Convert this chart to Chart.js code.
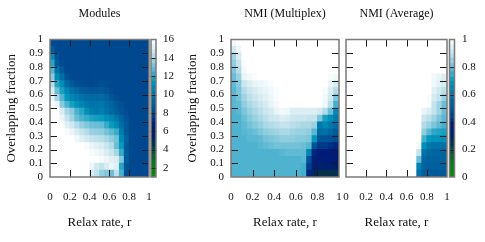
<!DOCTYPE html>
<html>
<head>
<meta charset="utf-8">
<title>Modules and NMI</title>
<script src="https://cdn.jsdelivr.net/npm/chart.js@4"></script>
<style>
  html, body { margin: 0; padding: 0; background: #fff; }
  #wrap { position: relative; width: 485px; height: 242px; overflow: hidden; filter: blur(0.45px); }
  canvas { position: absolute; left: 0; top: 0; }
</style>
</head>
<body>
<div id="wrap"></div>
<script>
const rateCenters = [0.025, 0.075, 0.125, 0.175, 0.225, 0.275, 0.325, 0.375, 0.425, 0.475, 0.525, 0.575, 0.625, 0.675, 0.725, 0.775, 0.825, 0.875, 0.925, 0.975];
// filas de arriba hacia abajo
const fractionTops = [1, 0.95, 0.9, 0.85, 0.8, 0.75, 0.7, 0.65, 0.6, 0.55, 0.5, 0.45, 0.4, 0.35, 0.3, 0.25, 0.2, 0.15, 0.1, 0.05];
const rowHeight = 0.05;

const rateTicks = [0, 0.2, 0.4, 0.6, 0.8, 1];
const fractionTicks = [0, 0.1, 0.2, 0.3, 0.4, 0.5, 0.6, 0.7, 0.8, 0.9, 1];
const modulesBarTicks = [2, 4, 6, 8, 10, 12, 14, 16];
const nmiBarTicks = [0, 0.2, 0.4, 0.6, 0.8, 1];

const modulesGrid = [
  [8.2, 8, 8, 8, 8, 8, 8, 8, 8, 8, 8, 8, 8, 8, 8, 8, 8, 8, 8, 8],
  [9, 8, 8, 8, 8, 8, 8, 8, 8, 8, 8, 8, 8, 8, 8, 8, 8, 8, 8, 8],
  [11, 8.4, 8, 8, 8, 8, 8, 8, 8, 8, 8, 8, 8, 8, 8, 8, 8, 8, 8, 8],
  [12, 9, 8.1, 8, 8, 8, 8, 8, 8, 8, 8, 8, 8, 8, 8, 8, 8, 8, 8, 8],
  [12.6, 10, 8.8, 8, 8, 8, 8, 8, 8, 8, 8, 8, 8, 8, 8, 8, 8, 8, 8, 8],
  [13.5, 11, 9.8, 8.4, 8, 8, 8, 8, 8, 8, 8, 8, 8, 8, 8, 8, 8, 8, 8, 8],
  [14.2, 12, 11, 9.5, 8.8, 8.3, 8.1, 8, 8, 8.1, 8.3, 8.1, 8, 8, 8, 8, 8, 8, 8, 8],
  [15, 13, 11.8, 10.8, 10, 9.5, 9, 8.8, 8.6, 8.7, 8.8, 8.5, 8.1, 8, 8, 8, 8, 8, 8, 8],
  [15.5, 14, 12.6, 11.5, 10.8, 10.4, 10, 9.7, 9.6, 9.6, 9.7, 9.2, 8.6, 8.2, 8, 8, 8, 8, 8, 8],
  [16, 15.5, 13.5, 12.5, 11.8, 11.2, 10.7, 10.3, 10.1, 10.1, 10.2, 9.8, 9.4, 8.8, 8.4, 8, 8, 8, 8, 8],
  [16, 16, 15, 14, 13.5, 12.5, 12, 11.2, 10.5, 10.2, 10.5, 10, 9.5, 9, 8.5, 8.1, 8, 8, 8, 8],
  [16, 16, 15.5, 14.5, 13.9, 13, 12.5, 12.2, 11.9, 11.7, 11.6, 11.2, 10.8, 10.2, 9.2, 8.5, 8, 8, 8, 8],
  [16, 16, 16, 15.2, 14.8, 14.2, 13.7, 13.4, 13.1, 13, 12.9, 12.2, 11.6, 11, 9.8, 8.8, 8, 8, 8, 8],
  [16, 16, 16, 15.8, 15.5, 15, 14.5, 14.2, 13.8, 13.7, 13.6, 13.2, 12.8, 12.3, 10.5, 8.8, 8, 8, 8, 8],
  [16, 16, 16, 16, 16, 15.6, 15.2, 14.9, 14.5, 14.4, 14.3, 14, 13.6, 13.2, 11, 9.2, 8, 8, 8, 8],
  [16, 16, 16, 16, 16, 16, 16, 15.8, 15.5, 15.2, 15, 14.6, 14.2, 13, 11.6, 8.8, 8, 8, 8, 8],
  [16, 16, 16, 16, 16, 16, 16, 16, 15.8, 15.6, 15.4, 15, 14.6, 14, 12.2, 9, 8, 8, 8, 8],
  [16, 16, 16, 16, 16, 16, 16, 16, 16, 16, 15.8, 15.5, 15.2, 15, 13.4, 9, 8, 8, 8, 8],
  [16, 16, 16, 16, 16, 16, 16, 16, 15.5, 14.8, 14.5, 15, 15.5, 15.2, 12, 8.5, 8, 8, 8, 8],
  [16, 16, 16, 16, 16, 16, 16, 16, 15, 14.4, 13.7, 13.4, 13, 14.4, 12.5, 8.3, 8, 8, 8, 8]
];

const multiplexGrid = [
  [0.98, 1, 1, 1, 1, 1, 1, 1, 1, 1, 1, 1, 1, 1, 1, 1, 1, 1, 1, 1],
  [0.92, 0.97, 1, 1, 1, 1, 1, 1, 1, 1, 1, 1, 1, 1, 1, 1, 1, 1, 1, 1],
  [0.86, 0.93, 1, 1, 1, 1, 1, 1, 1, 1, 1, 1, 1, 1, 1, 1, 1, 1, 1, 1],
  [0.84, 0.9, 0.99, 1, 1, 1, 1, 1, 1, 1, 1, 1, 1, 1, 1, 1, 1, 1, 1, 1],
  [0.82, 0.88, 0.98, 1, 1, 1, 1, 1, 1, 1, 1, 1, 1, 1, 1, 1, 1, 1, 1, 1],
  [0.8, 0.85, 0.96, 0.98, 0.99, 1, 1, 1, 1, 1, 1, 1, 1, 1, 1, 1, 1, 1, 0.99, 0.98],
  [0.79, 0.83, 0.91, 0.94, 0.96, 0.97, 0.98, 0.99, 1, 1, 1, 1, 1, 1, 1, 1, 1, 1, 0.96, 0.93],
  [0.78, 0.82, 0.88, 0.91, 0.93, 0.95, 0.96, 0.98, 0.99, 1, 1, 1, 1, 1, 1, 1, 1, 0.99, 0.94, 0.88],
  [0.78, 0.81, 0.86, 0.89, 0.91, 0.93, 0.95, 0.97, 0.99, 1, 1, 1, 1, 1, 1, 1, 1, 0.98, 0.92, 0.82],
  [0.78, 0.79, 0.84, 0.87, 0.89, 0.91, 0.93, 0.96, 0.98, 1, 1, 1, 1, 1, 1, 1, 1, 0.97, 0.89, 0.76],
  [0.77, 0.78, 0.82, 0.85, 0.87, 0.89, 0.91, 0.93, 0.96, 0.98, 0.97, 0.94, 0.94, 0.94, 0.94, 0.94, 0.92, 0.88, 0.8, 0.66],
  [0.77, 0.77, 0.8, 0.83, 0.85, 0.87, 0.89, 0.91, 0.92, 0.94, 0.93, 0.91, 0.91, 0.91, 0.9, 0.9, 0.82, 0.72, 0.68, 0.62],
  [0.77, 0.77, 0.79, 0.81, 0.83, 0.85, 0.87, 0.88, 0.89, 0.9, 0.9, 0.89, 0.88, 0.87, 0.87, 0.85, 0.62, 0.66, 0.62, 0.58],
  [0.77, 0.77, 0.78, 0.79, 0.8, 0.82, 0.84, 0.85, 0.86, 0.87, 0.87, 0.86, 0.85, 0.85, 0.84, 0.78, 0.58, 0.6, 0.56, 0.52],
  [0.77, 0.77, 0.77, 0.78, 0.78, 0.79, 0.81, 0.82, 0.83, 0.84, 0.84, 0.84, 0.83, 0.83, 0.82, 0.7, 0.5, 0.5, 0.5, 0.48],
  [0.77, 0.77, 0.77, 0.77, 0.77, 0.78, 0.79, 0.8, 0.81, 0.81, 0.81, 0.81, 0.81, 0.8, 0.78, 0.5, 0.44, 0.44, 0.42, 0.4],
  [0.77, 0.77, 0.77, 0.77, 0.77, 0.77, 0.77, 0.77, 0.77, 0.78, 0.79, 0.79, 0.79, 0.79, 0.65, 0.4, 0.38, 0.38, 0.38, 0.38],
  [0.77, 0.77, 0.77, 0.77, 0.77, 0.77, 0.77, 0.77, 0.77, 0.77, 0.77, 0.77, 0.77, 0.78, 0.5, 0.36, 0.36, 0.36, 0.36, 0.36],
  [0.77, 0.77, 0.77, 0.77, 0.77, 0.77, 0.77, 0.77, 0.77, 0.77, 0.77, 0.77, 0.77, 0.76, 0.45, 0.33, 0.33, 0.32, 0.32, 0.32],
  [0.77, 0.77, 0.77, 0.77, 0.77, 0.77, 0.77, 0.77, 0.77, 0.77, 0.77, 0.77, 0.77, 0.76, 0.4, 0.27, 0.25, 0.25, 0.25, 0.25]
];

const averageGrid = [
  [1, 1, 1, 1, 1, 1, 1, 1, 1, 1, 1, 1, 1, 1, 1, 1, 1, 1, 1, 1],
  [1, 1, 1, 1, 1, 1, 1, 1, 1, 1, 1, 1, 1, 1, 1, 1, 1, 1, 1, 1],
  [1, 1, 1, 1, 1, 1, 1, 1, 1, 1, 1, 1, 1, 1, 1, 1, 1, 1, 1, 1],
  [1, 1, 1, 1, 1, 1, 1, 1, 1, 1, 1, 1, 1, 1, 1, 1, 1, 1, 1, 1],
  [1, 1, 1, 1, 1, 1, 1, 1, 1, 1, 1, 1, 1, 1, 1, 1, 1, 1, 1, 1],
  [1, 1, 1, 1, 1, 1, 1, 1, 1, 1, 1, 1, 1, 1, 1, 1, 1, 0.98, 0.96, 0.94],
  [1, 1, 1, 1, 1, 1, 1, 1, 1, 1, 1, 1, 1, 1, 1, 1, 1, 0.97, 0.95, 0.93],
  [1, 1, 1, 1, 1, 1, 1, 1, 1, 1, 1, 1, 1, 1, 1, 1, 1, 0.95, 0.92, 0.89],
  [1, 1, 1, 1, 1, 1, 1, 1, 1, 1, 1, 1, 1, 1, 1, 1, 0.99, 0.93, 0.9, 0.85],
  [1, 1, 1, 1, 1, 1, 1, 1, 1, 1, 1, 1, 1, 1, 1, 1, 0.99, 0.9, 0.86, 0.8],
  [1, 1, 1, 1, 1, 1, 1, 1, 1, 1, 1, 1, 1, 1, 1, 0.96, 0.94, 0.9, 0.86, 0.8],
  [1, 1, 1, 1, 1, 1, 1, 1, 1, 1, 1, 1, 1, 1, 1, 0.91, 0.89, 0.86, 0.82, 0.78],
  [1, 1, 1, 1, 1, 1, 1, 1, 1, 1, 1, 1, 1, 1, 1, 0.88, 0.85, 0.82, 0.79, 0.76],
  [1, 1, 1, 1, 1, 1, 1, 1, 1, 1, 1, 1, 1, 1, 1, 0.84, 0.78, 0.74, 0.73, 0.72],
  [1, 1, 1, 1, 1, 1, 1, 1, 1, 1, 1, 1, 1, 1, 1, 0.76, 0.7, 0.68, 0.68, 0.68],
  [1, 1, 1, 1, 1, 1, 1, 1, 1, 1, 1, 1, 1, 1, 0.98, 0.68, 0.62, 0.6, 0.6, 0.6],
  [1, 1, 1, 1, 1, 1, 1, 1, 1, 1, 1, 1, 1, 1, 0.9, 0.6, 0.57, 0.56, 0.56, 0.55],
  [1, 1, 1, 1, 1, 1, 1, 1, 1, 1, 1, 1, 1, 1, 0.8, 0.56, 0.55, 0.55, 0.55, 0.55],
  [1, 1, 1, 1, 1, 1, 1, 1, 1, 1, 1, 1, 1, 1, 0.65, 0.55, 0.54, 0.54, 0.54, 0.54],
  [1, 1, 1, 1, 1, 1, 1, 1, 1, 1, 1, 1, 1, 1, 0.6, 0.54, 0.52, 0.52, 0.52, 0.52]
];

// escala de color: posición 0..1 y color
const paletteStops = [
  [0, "#009000"], [0.1, "#0a7a20"], [0.2, "#0b4a38"], [0.25, "#03304f"], [0.3, "#00206a"],
  [0.38, "#001c78"], [0.47, "#004a90"], [0.6, "#0072a8"], [0.7, "#0098bc"],
  [0.77, "#4fb3cf"], [0.9, "#c5e3ec"], [1, "#ffffff"]
];

// niveles del colorbar, de abajo hacia arriba
const barLevels = [0, 0.03, 0.07, 0.1, 0.13, 0.17, 0.2, 0.23, 0.27, 0.3, 0.33, 0.37, 0.4, 0.43, 0.47, 0.5, 0.53, 0.57, 0.6, 0.63, 0.67, 0.7, 0.73, 0.77, 0.8, 0.83, 0.87, 0.9, 0.93, 0.97];

const SERIF = "'Liberation Serif', 'Times New Roman', serif";
const WIDTH = 485, HEIGHT = 242;
const PLOT_TOP = 39.5, PLOT_BOTTOM = 177;

function paletteColor(t) {
  const v = Math.min(1, Math.max(0, t));
  for (let i = 1; i < paletteStops.length; i++) {
    const [p0, c0] = paletteStops[i - 1];
    const [p1, c1] = paletteStops[i];
    if (v <= p1) {
      const k = (v - p0) / (p1 - p0);
      const ch = (c, s) => parseInt(c.substr(s, 2), 16);
      const mix = s => Math.round(ch(c0, s) + (ch(c1, s) - ch(c0, s)) * k);
      return `rgb(${mix(1)},${mix(3)},${mix(5)})`;
    }
  }
  return "#ffffff";
}

// marcas hacia adentro y marco, estilo gnuplot
const frameTicks = {
  id: "frameTicks",
  afterDatasetsDraw(chart, args, opts) {
    const { ctx, chartArea: a, scales } = chart;
    ctx.save();
    ctx.strokeStyle = "#1a1a1a";
    ctx.lineWidth = 1;
    ctx.beginPath();
    scales.y.ticks.forEach(t => {
      const y = Math.round(scales.y.getPixelForValue(t.value)) + 0.5;
      if (y < a.top + 2 || y > a.bottom - 2) return;
      ctx.moveTo(a.left, y); ctx.lineTo(a.left + opts.len, y);
      ctx.moveTo(a.right - opts.len, y); ctx.lineTo(a.right, y);
    });
    if (scales.x.type === "linear") {
      scales.x.ticks.forEach(t => {
        const x = Math.round(scales.x.getPixelForValue(t.value)) + 0.5;
        if (x < a.left + 2 || x > a.right - 2) return;
        ctx.moveTo(x, a.top); ctx.lineTo(x, a.top + opts.len);
        ctx.moveTo(x, a.bottom - opts.len); ctx.lineTo(x, a.bottom);
      });
    }
    ctx.stroke();
    ctx.strokeStyle = "#7a7a7a";
    ctx.lineWidth = 1.5;
    ctx.strokeRect(a.left, a.top, a.right - a.left, a.bottom - a.top);
    ctx.restore();
  }
};

function newCanvas() {
  const c = document.createElement("canvas");
  c.width = WIDTH;
  c.height = HEIGHT;
  document.getElementById("wrap").appendChild(c);
  return c;
}

function setTicks(values) {
  return scale => { scale.ticks = values.map(value => ({ value })); };
}

const plainTick = value => String(value);

function drawHeatmap(p) {
  const cells = [];
  const colors = [];
  p.grid.forEach((row, r) => {
    row.forEach((v, c) => {
      const top = fractionTops[r];
      cells.push({ x: rateCenters[c], y: [top - rowHeight, top] });
      colors.push(paletteColor((v - p.min) / (p.max - p.min)));
    });
  });

  new Chart(newCanvas(), {
    type: "bar",
    data: {
      datasets: [{
        data: cells,
        backgroundColor: colors,
        borderWidth: 0,
        barPercentage: 1,
        categoryPercentage: 1,
        inflateAmount: 0.4
      }]
    },
    options: {
      responsive: false,
      animation: false,
      events: [],
      layout: { padding: { left: p.paddingLeft, right: WIDTH - p.right, top: 0, bottom: 0 } },
      plugins: {
        legend: { display: false },
        tooltip: { enabled: false },
        title: {
          display: true,
          text: p.title,
          fullSize: false,
          color: "#111",
          font: { family: SERIF, size: 12, weight: "normal" },
          padding: { top: 7, bottom: 18.1 }
        },
        frameTicks: { len: 7 }
      },
      scales: {
        x: {
          type: "linear",
          offset: false,
          min: 0,
          max: 1,
          afterBuildTicks: setTicks(rateTicks),
          afterFit: s => { s.height = HEIGHT - PLOT_BOTTOM; },
          grid: { display: false, drawTicks: false },
          border: { display: false },
          ticks: { color: "#111", padding: 14, maxRotation: 0, autoSkip: false, font: { family: SERIF, size: 11 }, callback: plainTick },
          title: {
            display: true,
            text: "Relax rate, r",
            color: "#111",
            font: { family: SERIF, size: 13 },
            padding: { top: 0, bottom: 12 }
          }
        },
        y: {
          type: "linear",
          min: 0,
          max: 1,
          afterBuildTicks: setTicks(fractionTicks),
          afterFit: s => { s.width = p.left - p.paddingLeft; },
          grid: { display: false, drawTicks: false },
          border: { display: false },
          ticks: { display: p.yLabels, color: "#111", padding: 7, autoSkip: false, font: { family: SERIF, size: 11 }, callback: plainTick },
          title: {
            display: p.yLabels,
            text: "Overlapping fraction",
            color: "#111",
            font: { family: SERIF, size: 13 },
            padding: 0
          }
        }
      }
    },
    plugins: [frameTicks]
  });
}

function drawColorBar(p) {
  const span = p.max - p.min;
  const cells = barLevels.map((t, i) => {
    const next = i + 1 < barLevels.length ? barLevels[i + 1] : 1;
    return { x: "bar", y: [p.min + t * span, p.min + next * span] };
  });
  const colors = barLevels.map((t, i) => {
    const next = i + 1 < barLevels.length ? barLevels[i + 1] : 1;
    return paletteColor((t + next) / 2);
  });

  new Chart(newCanvas(), {
    type: "bar",
    data: {
      labels: ["bar"],
      datasets: [{
        data: cells,
        backgroundColor: colors,
        borderWidth: 0,
        barPercentage: 1,
        categoryPercentage: 1
      }]
    },
    options: {
      responsive: false,
      animation: false,
      events: [],
      layout: { padding: { left: p.left, right: WIDTH - p.right - p.labelWidth, top: PLOT_TOP, bottom: 0 } },
      plugins: {
        legend: { display: false },
        tooltip: { enabled: false },
        frameTicks: { len: 5.5 }
      },
      scales: {
        x: {
          type: "category",
          display: true,
          afterFit: s => { s.height = HEIGHT - PLOT_BOTTOM; },
          grid: { display: false, drawTicks: false },
          border: { display: false },
          ticks: { display: false }
        },
        y: {
          type: "linear",
          position: "right",
          min: p.min,
          max: p.max,
          afterBuildTicks: setTicks(p.ticks),
          afterFit: s => { s.width = p.labelWidth; },
          grid: { display: false, drawTicks: false },
          border: { display: false },
          ticks: { color: "#111", padding: p.labelGap, autoSkip: false, font: { family: SERIF, size: 11 }, callback: plainTick }
        }
      }
    },
    plugins: [frameTicks]
  });
}

document.addEventListener("DOMContentLoaded", () => {
  drawHeatmap({ grid: modulesGrid, min: 1, max: 16, title: "Modules", left: 50, right: 149, paddingLeft: 4, yLabels: true });
  drawHeatmap({ grid: multiplexGrid, min: 0, max: 1, title: "NMI (Multiplex)", left: 231, right: 339, paddingLeft: 185, yLabels: true });
  drawHeatmap({ grid: averageGrid, min: 0, max: 1, title: "NMI (Average)", left: 346, right: 447, paddingLeft: 346, yLabels: false });
  drawColorBar({ min: 1, max: 16, ticks: modulesBarTicks, left: 151, right: 156, labelWidth: 24, labelGap: 7 });
  drawColorBar({ min: 0, max: 1, ticks: nmiBarTicks, left: 449.5, right: 454.5, labelWidth: 26, labelGap: 7.5 });
});
</script>
</body>
</html>
